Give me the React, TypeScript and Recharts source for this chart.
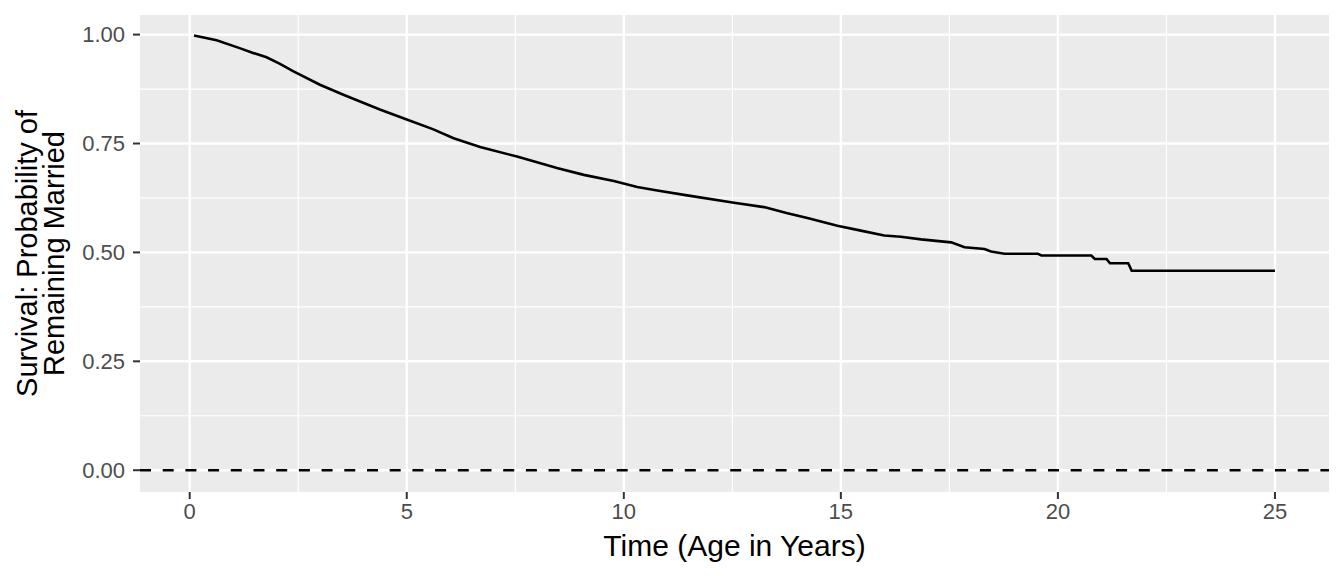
import { CartesianGrid, Line, LineChart, ReferenceLine, XAxis, YAxis } from 'recharts'

// Kaplan-Meier estimate
const years = [
  0.1, 0.62, 1.15, 1.46, 1.77, 2.08, 2.38, 3.0, 3.54, 4.38, 5.0, 5.6, 6.08, 6.69, 7.54,
  8.46, 9.08, 9.77, 10.31, 10.77, 11.46, 12.54, 13.23, 13.77, 14.23, 14.92, 15.46,
  16.0, 16.38, 16.85, 17.54, 17.85, 18.31, 18.46, 18.77, 19.54, 19.62, 20.77, 20.85,
  21.12, 21.2, 21.62, 21.7, 25.0,
]
const survival = [
  0.998, 0.987, 0.969, 0.958, 0.948, 0.933, 0.916, 0.885, 0.862, 0.828, 0.805, 0.783,
  0.762, 0.742, 0.72, 0.694, 0.678, 0.664, 0.65, 0.642, 0.631, 0.614, 0.604, 0.59,
  0.579, 0.561, 0.55, 0.539, 0.536, 0.53, 0.523, 0.512, 0.508, 0.502, 0.497, 0.497,
  0.493, 0.493, 0.485, 0.485, 0.475, 0.475, 0.458, 0.458,
]

const x_ticks = [0, 5, 10, 15, 20, 25]
const x_minor = [2.5, 7.5, 12.5, 17.5, 22.5]
const y_ticks = [0, 0.25, 0.5, 0.75, 1]
const y_minor = [0.125, 0.375, 0.625, 0.875]

const km_data = years.map((t, i) => ({ time: t, surv: survival[i] }))

const font = '"Liberation Sans", Arial, Helvetica, sans-serif'
const tickStyle = { fill: '#4D4D4D', fontSize: 22, fontFamily: font }

const YTitle = (props: any) => {
  const vb = props.viewBox
  const cy = vb.y + vb.height / 2
  return (
    <g fontFamily={font} fontSize={29} fill="#000000" textAnchor="middle">
      <text x={37} y={cy} transform={`rotate(-90 37 ${cy})`}>
        Survival: Probability of
      </text>
      <text x={64} y={cy} transform={`rotate(-90 64 ${cy})`}>
        Remaining Married
      </text>
    </g>
  )
}

const XTitle = (props: any) => {
  const vb = props.viewBox
  return (
    <text
      x={vb.x + vb.width / 2}
      y={vb.y + 64}
      textAnchor="middle"
      fontFamily={font}
      fontSize={30}
      fill="#000000"
    >
      Time (Age in Years)
    </text>
  )
}

export default function App() {
  return (
    <div style={{ position: 'absolute', left: 0, top: 0, background: '#ffffff' }}>
      <LineChart
        width={1344}
        height={576}
        data={km_data}
        margin={{ top: 15, right: 15, bottom: 0, left: 0 }}
      >
        <CartesianGrid fill="#EBEBEB" stroke="none" />
        {x_minor.map((v) => (
          <ReferenceLine key={'xm' + v} x={v} stroke="#ffffff" strokeWidth={1.2} />
        ))}
        {y_minor.map((v) => (
          <ReferenceLine key={'ym' + v} y={v} stroke="#ffffff" strokeWidth={1.2} />
        ))}
        {x_ticks.map((v) => (
          <ReferenceLine key={'x' + v} x={v} stroke="#ffffff" strokeWidth={2.4} />
        ))}
        {y_ticks.map((v) => (
          <ReferenceLine key={'y' + v} y={v} stroke="#ffffff" strokeWidth={2.4} />
        ))}
        <XAxis
          dataKey="time"
          type="number"
          domain={[-1.145, 26.245]}
          ticks={x_ticks}
          allowDataOverflow
          height={84}
          axisLine={false}
          tickLine={{ stroke: '#333333', strokeWidth: 2 }}
          tickSize={7}
          tickMargin={4}
          tick={tickStyle}
          label={{ content: XTitle }}
        />
        <YAxis
          type="number"
          domain={[-0.05, 1.045]}
          ticks={y_ticks}
          allowDataOverflow
          width={140}
          axisLine={false}
          tickLine={{ stroke: '#333333', strokeWidth: 2 }}
          tickSize={7}
          tickMargin={8}
          tick={tickStyle}
          tickFormatter={(v: number) => v.toFixed(2)}
          label={{ content: YTitle }}
        />
        <Line
          type="linear"
          dataKey="surv"
          stroke="#000000"
          strokeWidth={2.6}
          dot={false}
          activeDot={false}
          isAnimationActive={false}
        />
        <ReferenceLine y={0} stroke="#000000" strokeWidth={2.5} strokeDasharray="11 11.7" />
      </LineChart>
    </div>
  )
}
